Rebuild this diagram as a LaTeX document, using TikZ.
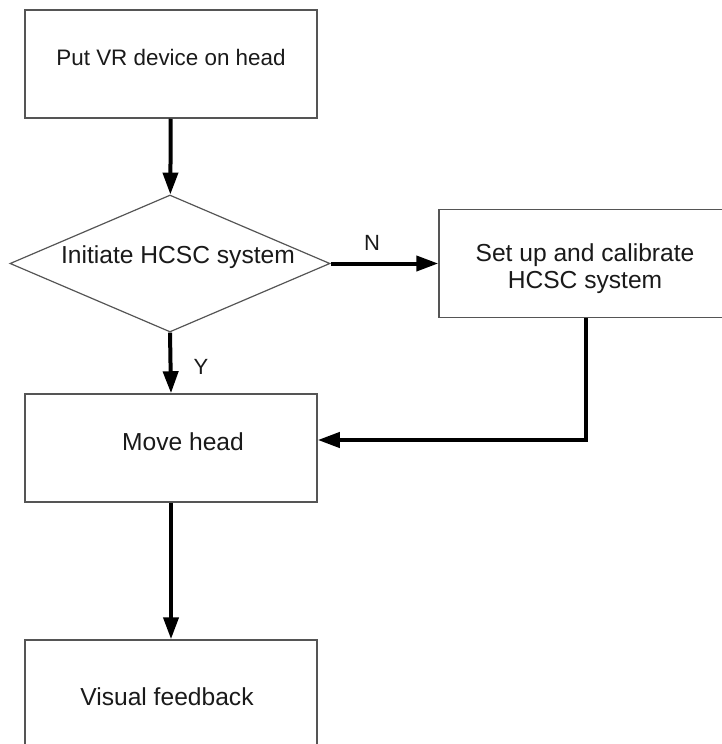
\documentclass[tikz,border=0pt]{standalone}
\usepackage{fontspec}
\setmainfont{Liberation Sans}
\usetikzlibrary{arrows.meta,shapes.geometric,calc}
\newcommand\lifted[2]{\raisebox{#1}[\height][\depth]{#2}}
\definecolor{edge}{HTML}{555555}
\definecolor{ink}{HTML}{1A1A1A}
\tikzset{
  stepbox/.style={draw=edge, line width=1.5pt, fill=white, minimum width=292pt,
    minimum height=108pt, inner sep=0pt, text=ink, align=center,
    font=\fontsize{24.6}{27}\selectfont},
  decision/.style={diamond, draw=edge, line width=1.2pt, fill=white, aspect=2.34,
    minimum width=320pt, minimum height=137pt, inner sep=0pt, text=ink,
    font=\fontsize{24.6}{27}\selectfont},
  flow/.style={draw=black, line width=4pt,
    -{Triangle[length=22pt,width=15pt]}},
  tag/.style={text=ink, inner sep=0pt, font=\fontsize{22}{27}\selectfont}
}
\begin{document}
\begin{tikzpicture}[x=1pt,y=-1pt]
\useasboundingbox (0,0) rectangle (722,744);
\clip (0,0) rectangle (722,744);
% process steps
\node[stepbox, font=\fontsize{22.4}{27}\selectfont] (put) at (171,64)
  {\lifted{7pt}{Put VR device on head}};
\node[decision] (init) at (170,263.5) {\lifted{6pt}{\hspace*{16pt}Initiate HCSC system}};
% this box runs past the right edge of the page
\node[stepbox, minimum width=340pt] (setup) at (609,263.5)
  {\lifted{-6pt}{\hspace*{-48pt}\begin{tabular}{@{}c@{}}Set up and calibrate\\HCSC system\end{tabular}}};
\node[stepbox] (move) at (171,448) {\lifted{6pt}{\hspace*{24pt}Move head}};
\node[stepbox, minimum height=114pt] (feed) at (171,697) {\hspace*{-8pt}Visual feedback};
% connectors
\draw[flow] (put) -- (init);
\draw[flow] (init.east) -- (setup.west);
\draw[flow] (init.south) -- (move.north);
\coordinate (setout) at ($(setup.south)+(-23,0)$);
\coordinate (movein) at ($(move.east)+(0,-8)$);
\draw[flow] (setout) |- (movein);
\draw[flow] (move) -- (feed);
% branch labels
\node[tag] (nlab) at (372,243) {N};
\node[tag] (ylab) at (201,367) {Y};
\end{tikzpicture}
\end{document}
